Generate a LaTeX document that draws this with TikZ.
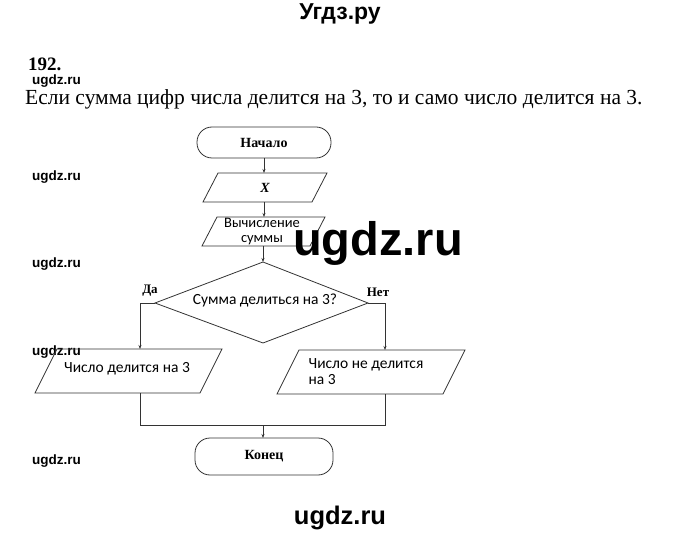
\documentclass[tikz,border=0pt]{standalone}
\usepackage{fontspec}
\setmainfont{Liberation Serif}
\newfontfamily\wm{Liberation Sans}
\newfontfamily\cb{Carlito}
\usetikzlibrary{shapes.geometric,arrows.meta}
\begin{document}
\begin{tikzpicture}[x=1pt,y=-1pt,
  ln/.style={draw=black!80,line width=0.8pt},
  arr/.style={ln,-{Stealth[length=4pt,width=3pt]}},
  term/.style={ln,rounded corners=15pt},
  lab/.style={font=\cb\fontsize{15.5}{16}\selectfont,align=left,inner sep=1pt},
  small/.style={font=\wm\bfseries\fontsize{13.5}{14}\selectfont,inner sep=0pt},
]
\useasboundingbox (0,0) rectangle (680,537);
\node[font=\wm\bfseries\fontsize{23}{24}\selectfont] (hdr) at (340,14) {Угдз.ру};
\node[font=\bfseries\fontsize{19}{20}\selectfont,anchor=west,inner sep=0pt] (num) at (28,64) {192.};
\node[small,anchor=west] (w0) at (32,81) {ugdz.ru};
\node[font=\fontsize{21.5}{24}\selectfont,anchor=west,inner sep=0pt] (sent) at (25,99) {Если сумма цифр числа делится на 3, то и само число делится на 3.};
\node[font=\wm\bfseries\fontsize{25.5}{28}\selectfont] (ftr) at (340,518) {ugdz.ru};
\foreach \y/\n in {177/a,264/b,352/c,461/d} \node[small,anchor=west] (w\n) at (32,\y) {ugdz.ru};

% flowchart
\draw[term] (197,127) rectangle (331,158);
\node[font=\bfseries\fontsize{14}{15}\selectfont] (start) at (264,142.5) {Начало};
\draw[ln] (218,173) -- (327,173) -- (312,202) -- (203,202) -- cycle;
\node[font=\itshape\bfseries\fontsize{14}{15}\selectfont] (x) at (265,188) {X};
\draw[ln] (217,217) -- (325,217) -- (310,246) -- (202,246) -- cycle;
\node[lab,align=center,font=\cb\fontsize{14.5}{15}\selectfont] (calc) at (262,231.5) {Вычисление\\суммы};
\draw[ln] (263,262) -- (368,303) -- (263,343) -- (155,303) -- cycle;
\node[lab] (cond) at (265,300) {Сумма делиться на 3?};
\node[font=\bfseries\fontsize{13}{14}\selectfont] (da) at (150,291) {Да};
\node[font=\bfseries\fontsize{13}{14}\selectfont] (net) at (378,292) {Нет};
\draw[ln] (57,349) -- (222,349) -- (200,393) -- (35,393) -- cycle;
\node[lab] (yes) at (127,369) {Число делится на 3};
\draw[ln] (299,350) -- (465,350) -- (443,394) -- (277,394) -- cycle;
\node[lab] (no) at (366,372) {Число не делится\\на 3};
\draw[term] (195,438) rectangle (333,475);
\node[font=\bfseries\fontsize{14}{15}\selectfont] (end) at (264,456) {Конец};

\draw[arr] (264,158) -- (264,173);
\draw[arr] (264,202) -- (264,217);
\draw[arr] (263,246) -- (263,262);
\draw[arr] (155,303) -- (140,303) -- (140,349);
\draw[arr] (368,303) -- (385,303) -- (385,350);
\draw[ln] (140,393) -- (140,425) -- (385,425) -- (385,394);
\draw[arr] (263,425) -- (263,438);

\node[font=\wm\bfseries\fontsize{47}{50}\selectfont] (big) at (378,243) {ugdz.ru};
\end{tikzpicture}
\end{document}
